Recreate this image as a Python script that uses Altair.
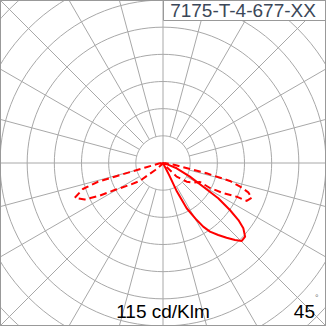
import altair as alt
import pandas as pd
import numpy as np

# ---- data (angle from nadir in degrees, intensity in ring units) ----
solid_angle = [0, 27, 26, 27.6, 30.6, 32.3, 34.4, 37.5, 40.4, 43.1, 45.3, 48.1, 50.9, 52.9, 54.9, 57.5, 59.5, 63.1, 68.9, 72, 80]
solid_r = [0, 0.5, 1.17, 1.88, 2.44, 2.77, 3.06, 3.34, 3.61, 3.88, 4.08, 4.06, 3.81, 3.48, 3.01, 2.41, 1.72, 1.11, 0.54, 0.14, 0]

dash_angle = [-88, -82, -75.6, -74.2, -73.9, -72, -68.5, -65, -62.7, -60.8, -56.1, -52.3, -51.3, -48, -40, 0,
              40, 45, 51.7, 57, 62.8, 62, 63.4, 65.4, 65.6, 68.6, 71, 73, 75, 76.7, 80.5, 88]
dash_r = [0.05, 0.15, 0.70, 1.85, 2.49, 3.10, 3.49, 3.18, 2.62, 2.04, 1.41, 1.08, 0.71, 0.4, 0.1, 0,
          0.1, 0.71, 1.11, 1.33, 1.53, 1.96, 2.47, 2.98, 3.38, 3.51, 3.32, 2.97, 2.55, 1.65, 0.45, 0.05]

ring_values = [1, 2, 3, 4, 5, 6, 7, 8]
spoke_angles = list(range(0, 360, 15))

title_text = "7175-T-4-677-XX"
scale_text = "115 cd/Klm"
angle_text = "45"

RED = "#ff0000"
GRID = "#a8a8a8"

W = 326
xs = alt.Scale(domain=[-6, 6], nice=False, zero=False)
ys = alt.Scale(domain=[-6, 6], nice=False, zero=False)

# rings
t = np.arange(0, 361, 3)
ring_df = pd.DataFrame([(rv, a) for rv in ring_values for a in t], columns=["ring", "a"])
rings = alt.Chart(ring_df).transform_calculate(
    x="datum.ring*sin(datum.a*PI/180)", y="datum.ring*cos(datum.a*PI/180)"
).mark_line(color=GRID, strokeWidth=1, clip=True).encode(
    x=alt.X("x:Q", scale=xs, axis=None),
    y=alt.Y("y:Q", scale=ys, axis=None),
    detail="ring:N", order="a:Q")

spoke_df = pd.DataFrame({"a": spoke_angles})
spokes = alt.Chart(spoke_df).transform_calculate(
    r0="datum.a % 90 == 0 ? 0 : 1"
).transform_calculate(
    x="datum.r0*sin(datum.a*PI/180)", y="datum.r0*cos(datum.a*PI/180)",
    x2="9*sin(datum.a*PI/180)", y2="9*cos(datum.a*PI/180)"
).mark_rule(color=GRID, strokeWidth=1, clip=True).encode(
    x=alt.X("x:Q", scale=xs, axis=None), y=alt.Y("y:Q", scale=ys, axis=None),
    x2="x2:Q", y2="y2:Q")

def curve(ang, rr, dash):
    df = pd.DataFrame({"a": ang, "r": rr, "i": range(len(ang))})
    kw = dict(color=RED, strokeWidth=2, clip=True, strokeJoin="round")
    if dash:
        kw["strokeDash"] = [7, 4]
    return alt.Chart(df).transform_calculate(
        x="datum.r*sin(datum.a*PI/180)", y="-datum.r*cos(datum.a*PI/180)"
    ).mark_line(**kw).encode(
        x=alt.X("x:Q", scale=xs, axis=None), y=alt.Y("y:Q", scale=ys, axis=None),
        order="i:Q")

dashed = curve(dash_angle, dash_r, True)
solid = curve(solid_angle, solid_r, False)

one = alt.Chart(pd.DataFrame({"k": [0]}))
title_box = one.mark_rect(fill="white", stroke="#999999", strokeWidth=1).encode(
    x=alt.value(163.5), x2=alt.value(325.5), y=alt.value(0.5), y2=alt.value(20.5))
title = one.mark_text(text=title_text, font="Liberation Sans", fontSize=19, color="#3b4758",
                      align="center", baseline="alphabetic").encode(x=alt.value(243), y=alt.value(16.5))
scale_lbl = one.mark_text(text=scale_text, font="Liberation Sans", fontSize=19, color="black",
                          align="center", baseline="alphabetic").encode(x=alt.value(163), y=alt.value(318))
ang_lbl = one.mark_text(text=angle_text, font="Liberation Sans", fontSize=19, color="black",
                        align="right", baseline="alphabetic").encode(x=alt.value(315), y=alt.value(318))
deg_lbl = one.mark_text(text="°", font="Liberation Sans", fontSize=9, color="#777777",
                        align="left", baseline="alphabetic").encode(x=alt.value(315), y=alt.value(301))
frame = one.mark_rect(fill=None, stroke="#999999", strokeWidth=1).encode(
    x=alt.value(0.5), x2=alt.value(325.5), y=alt.value(0.5), y2=alt.value(325.5))

chart = alt.layer(rings, spokes, dashed, solid, title_box, title, scale_lbl, ang_lbl, deg_lbl, frame).properties(
    width=W, height=W, padding=0, autosize=alt.AutoSizeParams(type="none"), background="white"
).configure_view(stroke=None)

chart.save("out.html", embed_options={"renderer": "svg", "actions": False})
